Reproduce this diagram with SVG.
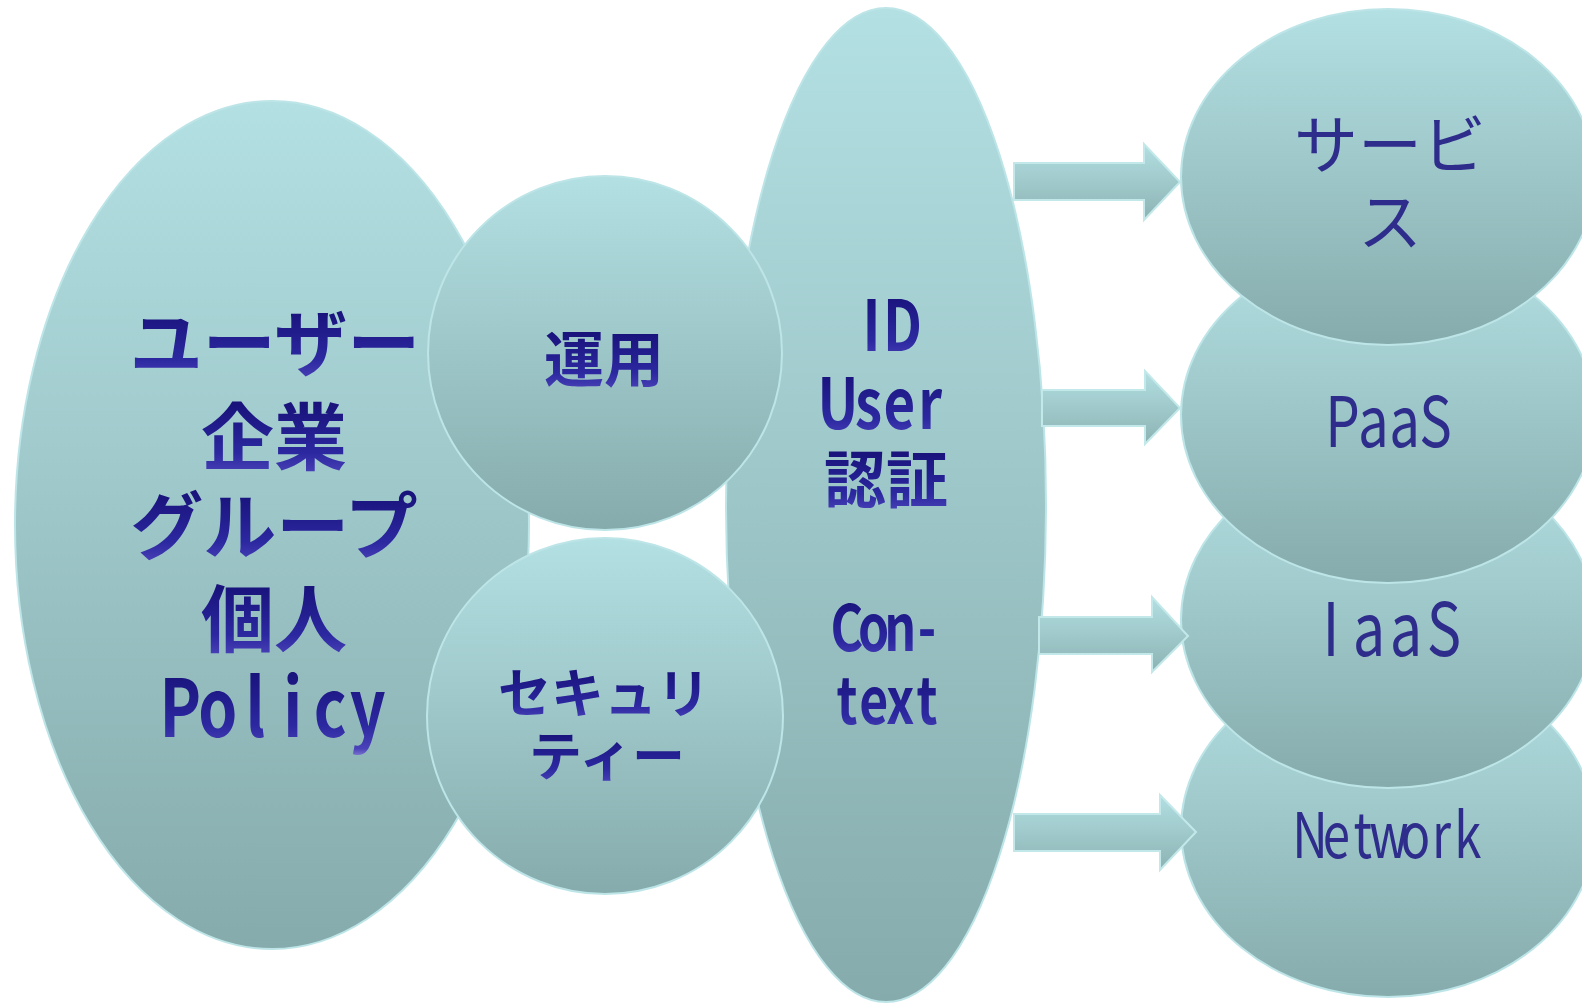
<svg xmlns="http://www.w3.org/2000/svg" width="1582" height="1003" viewBox="0 0 1582 1003">
<defs>
<linearGradient id="shape" x1="0" y1="0" x2="0" y2="1">
<stop offset="0" stop-color="#b3e0e3"/>
<stop offset="1" stop-color="#86abac"/>
</linearGradient>
<linearGradient id="arr" x1="0" y1="0" x2="0" y2="1">
<stop offset="0" stop-color="#b2dfe2"/>
<stop offset="1" stop-color="#8db3b4"/>
</linearGradient>
<linearGradient id="txt" x1="0" y1="0" x2="0" y2="1">
<stop offset="0" stop-color="#0f0868"/>
<stop offset="0.7" stop-color="#2c28a0"/>
<stop offset="0.9" stop-color="#4a42b8"/>
<stop offset="1" stop-color="#a09ae0"/>
</linearGradient>
<style>
.s{fill:url(#shape);stroke:#bde5e8;stroke-width:2}
.a{fill:url(#arr);stroke:#c3e8ea;stroke-width:2}
.b{font-family:"Noto Sans CJK JP","Liberation Sans",sans-serif;font-weight:bold;fill:url(#txt);text-anchor:middle}
.n{font-family:"Noto Sans CJK JP","Liberation Sans",sans-serif;font-weight:normal;fill:#2e2d8c;text-anchor:middle}
</style>
</defs>
<g id="user">
<ellipse class="s" cx="272" cy="525" rx="257" ry="424"/>
</g>
<g id="id">
<ellipse class="s" cx="886" cy="505" rx="160" ry="497"/>
</g>
<g id="unyou">
<circle class="s" cx="605" cy="353" r="177"/>
<text class="b" x="604" y="382" font-size="60">運用</text>
</g>
<g id="security">
<circle class="s" cx="605" cy="716" r="178"/>
<text class="b" x="604" y="713" font-size="53">セキュリ</text>
<text class="b" x="607" y="776" font-size="53">ティー</text>
</g>
<g id="user-text">
<text class="b" x="275" y="370" font-size="73">ユーザー</text>
<text class="b" x="274" y="464" font-size="73">企業</text>
<text class="b" x="274" y="553" font-size="73">グループ</text>
<text class="b" x="274" y="646" font-size="73">個人</text>
<text class="b" transform="translate(274,0) scale(0.78,1)" x="-120.2 -72.1 -24 24 72.1 120.2" y="737" font-size="80">Policy</text>
</g>
<g id="id-text">
<text class="b" transform="translate(887,0) scale(0.78,1)" x="-19.9 19.9" y="351" font-size="70">ID</text>
<text class="b" transform="translate(884,0) scale(0.78,1)" x="-59.1 -19.7 19.7 59.1" y="429" font-size="70">User</text>
<text class="b" x="886" y="503" font-size="62">認証</text>
<text class="b" transform="translate(887,0) scale(0.78,1)" x="-51.4 -17.1 17.1 51.4" y="651" font-size="64">Con-</text>
<text class="b" transform="translate(887,0) scale(0.78,1)" x="-51.4 -17.1 17.1 51.4" y="724" font-size="64">text</text>
</g>
<g id="network">
<ellipse class="s" cx="1388" cy="829" rx="207" ry="168"/>
<text class="n" transform="translate(1389,0) scale(0.78,1)" x="-101.2 -67.4 -33.7 0 33.7 67.4 101.2" y="858" font-size="63">Network</text>
</g>
<g id="iaas">
<ellipse class="s" cx="1388" cy="620" rx="207" ry="168"/>
<text class="n" transform="translate(1387.5,0) scale(0.78,1)" x="-72.4 -23.7 23.7 72.4" y="656" font-size="74">IaaS</text>
</g>
<g id="paas">
<ellipse class="s" cx="1388" cy="415" rx="207" ry="168"/>
<text class="n" transform="translate(1389,0) scale(0.78,1)" x="-59.6 -19.9 19.9 59.6" y="447" font-size="70">PaaS</text>
</g>
<g id="service">
<ellipse class="s" cx="1388" cy="177" rx="207" ry="168"/>
<text class="n" x="1390" y="168" font-size="64">サービ</text>
<text class="n" x="1390" y="245" font-size="64">ス</text>
</g>
<g id="connectors">
<polygon class="a" points="1014,163 1144,163 1144,144 1180,182 1144,220 1144,200 1014,200"/>
<polygon class="a" points="1042,390 1145,390 1145,371 1180,408 1145,444 1145,426 1042,426"/>
<polygon class="a" points="1039,617 1152,617 1152,597 1188,636 1152,672 1152,654 1039,654"/>
<polygon class="a" points="1014,814 1160,814 1160,795 1196,832 1160,870 1160,851 1014,851"/>
</g>
</svg>
